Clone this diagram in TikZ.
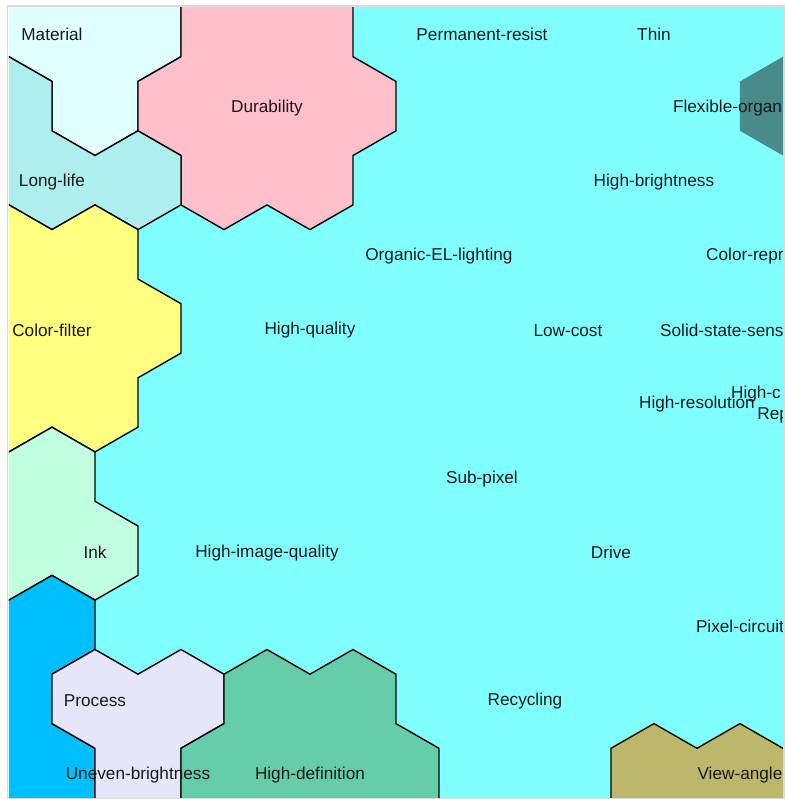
\documentclass[tikz,border=0pt]{standalone}
\usepackage{fontspec}
\setmainfont{Liberation Sans}
\usepackage{xcolor}
\usepackage{tikz}
\definecolor{mapcyan}{HTML}{80FFFF}
\definecolor{mapmaterial}{HTML}{E0FFFF}
\definecolor{mapdurable}{HTML}{FFC0CB}
\definecolor{maplonglife}{HTML}{AFEEEE}
\definecolor{mapfilter}{HTML}{FFFF80}
\definecolor{mapink}{HTML}{C1FFE1}
\definecolor{mapblue}{HTML}{00BFFF}
\definecolor{mapprocess}{HTML}{E6E6FA}
\definecolor{mapdefinition}{HTML}{66CDAA}
\definecolor{mapview}{HTML}{BDB76B}
\definecolor{mapteal}{HTML}{488B8A}
\tikzset{
  somregion/.style={draw=black, line width=1.4pt, line join=miter},
  somlabel/.style={font=\fontsize{17.2}{20}\selectfont, text=black!90, inner sep=0pt, yshift=-2pt},
  somframe/.style={draw=black!15, line width=1.5pt},
}

\begin{document}
\begin{tikzpicture}[x=43pt, y=-24.7pt]
\useasboundingbox (-0.209,-0.296) rectangle (18.047,32.053);
\draw[somframe] (-0.035,-0.05) rectangle (18.02,32.03);
\begin{scope}
\clip (0,0) rectangle (18,32);
\fill[mapcyan] (0,0) rectangle (18,32);
% unit grid: one step = half a cell wide, a quarter cell high
\fill[mapteal] (18,2) -- (19,3) -- (19,5) -- (18,6) -- (17,5) -- (17,3) -- cycle;
\draw[somregion, fill=mapmaterial] (-1,-1) -- (4,-1) -- (4,2) -- (3,3) -- (3,5) -- (2,6) -- (1,5) -- (1,3) -- (0,2) -- (-1,1.5) -- cycle;
\draw[somregion, fill=mapdurable] (4,-1) -- (4,2) -- (3,3) -- (3,5) -- (4,6) -- (4,8) -- (5,9) -- (6,8) -- (7,9) -- (8,8) -- (8,6) -- (9,5) -- (9,3) -- (8,2) -- (8,-1) -- cycle;
\draw[somregion, fill=maplonglife] (-1,1.5) -- (0,2) -- (1,3) -- (1,5) -- (2,6) -- (3,5) -- (4,6) -- (4,8) -- (3,9) -- (2,8) -- (1,9) -- (0,8) -- (-1,8.5) -- cycle;
\draw[somregion, fill=mapfilter] (-1,8.5) -- (0,8) -- (1,9) -- (2,8) -- (3,9) -- (3,11) -- (4,12) -- (4,14) -- (3,15) -- (3,17) -- (2,18) -- (1,17) -- (0,18) -- (-1,17.5) -- cycle;
\draw[somregion, fill=mapink] (-1,17.5) -- (0,18) -- (1,17) -- (2,18) -- (2,20) -- (3,21) -- (3,23) -- (2,24) -- (1,23) -- (0,24) -- (-1,23.5) -- cycle;
\draw[somregion, fill=mapblue] (-1,23.5) -- (0,24) -- (1,23) -- (2,24) -- (2,26) -- (1,27) -- (1,29) -- (2,30) -- (2,33) -- (-1,33) -- cycle;
\draw[somregion, fill=mapprocess] (1,27) -- (2,26) -- (3,27) -- (4,26) -- (5,27) -- (5,29) -- (4,30) -- (4,33) -- (2,33) -- (2,30) -- (1,29) -- cycle;
\draw[somregion, fill=mapdefinition] (5,27) -- (6,26) -- (7,27) -- (8,26) -- (9,27) -- (9,29) -- (10,30) -- (10,33) -- (4,33) -- (4,30) -- (5,29) -- cycle;
\draw[somregion, fill=mapview] (14,33) -- (14,30) -- (15,29) -- (16,30) -- (17,29) -- (18,30) -- (19,29.5) -- (19,33) -- cycle;
% labels
\node[somlabel] (material) at (1,1) {Material};
\node[somlabel] (permresist) at (11,1) {Permanent-resist};
\node[somlabel] (thin) at (15,1) {Thin};
\node[somlabel] (durability) at (6,4) {Durability};
\node[somlabel, anchor=west] (flexible) at (15.44,4) {Flexible-organi};
\node[somlabel] (longlife) at (1,7) {Long-life};
\node[somlabel] (brightness) at (15,7) {High-brightness};
\node[somlabel] (lighting) at (10,10) {Organic-EL-lighting};
\node[somlabel, anchor=west] (colorrepr) at (16.21,10) {Color-repr};
\node[somlabel] (colorfilter) at (1,13) {Color-filter};
\node[somlabel] (quality) at (7,13) {High-quality};
\node[somlabel] (lowcost) at (13,13) {Low-cost};
\node[somlabel, anchor=west] (solidstate) at (15.14,13) {Solid-state-sens};
\node[somlabel] (resolution) at (16,16) {High-resolution};
\node[somlabel, anchor=west] (highc) at (16.79,15.57) {High-c};
\node[somlabel, anchor=west] (rep) at (17.4,16.42) {Rep};
\node[somlabel] (subpixel) at (11,19) {Sub-pixel};
\node[somlabel] (ink) at (2,22) {Ink};
\node[somlabel] (imagequality) at (6,22) {High-image-quality};
\node[somlabel] (drive) at (14,22) {Drive};
\node[somlabel] (pixelcircuit) at (17,25) {Pixel-circuit};
\node[somlabel] (process) at (2,28) {Process};
\node[somlabel] (recycling) at (12,28) {Recycling};
\node[somlabel] (uneven) at (3,31) {Uneven-brightness};
\node[somlabel] (definition) at (7,31) {High-definition};
\node[somlabel] (viewangle) at (17,31) {View-angle};
\end{scope}
\end{tikzpicture}
\end{document}
